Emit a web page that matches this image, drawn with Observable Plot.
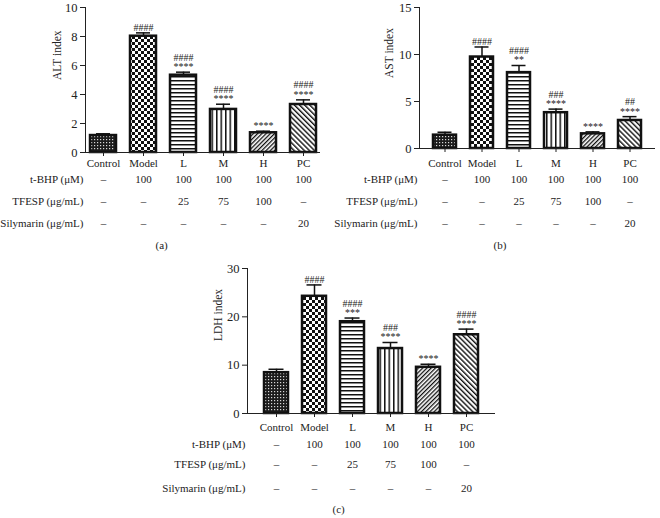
<!DOCTYPE html>
<html>
<head>
<meta charset="utf-8">
<script src="https://cdn.jsdelivr.net/npm/d3@7"></script>
<script src="https://cdn.jsdelivr.net/npm/@observablehq/plot@0.6"></script>
<style>
  html, body { margin: 0; padding: 0; background: #fff; }
  #root { position: relative; width: 660px; height: 518px; overflow: hidden; font-family: "Liberation Serif", serif; }
  #root > div { position: absolute; }
</style>
</head>
<body>
<svg width="0" height="0" style="position:absolute">
  <defs>
    <pattern id="pControl" width="3" height="3" patternUnits="userSpaceOnUse">
      <rect width="3" height="3" fill="#1c1c1c"/>
      <rect x="1" y="1" width="1.2" height="1.2" fill="#d8d8d8"/>
    </pattern>
    <pattern id="pModel" width="6" height="6" patternUnits="userSpaceOnUse">
      <rect width="6" height="6" fill="#fff"/>
      <rect width="3" height="3" fill="#111"/>
      <rect x="3" y="3" width="3" height="3" fill="#111"/>
    </pattern>
    <pattern id="pL" width="4" height="4" patternUnits="userSpaceOnUse">
      <rect width="4" height="4" fill="#fff"/>
      <rect width="4" height="1.5" fill="#111"/>
    </pattern>
    <pattern id="pM" width="4.5" height="4" patternUnits="userSpaceOnUse">
      <rect width="4.5" height="4" fill="#fff"/>
      <rect width="1.5" height="4" fill="#111"/>
    </pattern>
    <pattern id="pH" width="3" height="3" patternUnits="userSpaceOnUse" patternTransform="rotate(45)">
      <rect width="3" height="3" fill="#fff"/>
      <rect width="1.3" height="3" fill="#111"/>
    </pattern>
    <pattern id="pPC" width="3.6" height="3.6" patternUnits="userSpaceOnUse" patternTransform="rotate(-45)">
      <rect width="3.6" height="3.6" fill="#fff"/>
      <rect width="1.4" height="3.6" fill="#111"/>
    </pattern>
  </defs>
</svg>
<div id="root">
  <div id="pa"></div>
  <div id="pb"></div>
  <div id="pc"></div>
</div>
<script>
// ---------- data ----------
const categories = ["Control", "Model", "L", "M", "H", "PC"];

const altMean = [1.17, 8.02, 5.33, 2.97, 1.36, 3.31];
const altErr  = [0.12, 0.23, 0.21, 0.36, 0.11, 0.32];
const altSig  = ["", "####", "####\n****", "####\n****", "****", "####\n****"];

const astMean = [1.42, 9.73, 8.07, 3.81, 1.56, 2.98];
const astErr  = [0.31, 1.07, 0.76, 0.38, 0.21, 0.41];
const astSig  = ["", "####", "####\n**", "###\n****", "****", "##\n****"];

const ldhMean = [8.45, 24.25, 18.99, 13.44, 9.56, 16.29];
const ldhErr  = [0.70, 2.35, 0.76, 1.25, 0.63, 1.17];
const ldhSig  = ["", "####", "####\n***", "###\n****", "****", "####\n****"];

const tbhp      = ["–", "100", "100", "100", "100", "100"];
const tfesp     = ["–", "–", "25", "75", "100", "–"];
const silymarin = ["–", "–", "–", "–", "–", "20"];
const rowLabels = ["t-BHP (μM)", "TFESP (μg/mL)", "Silymarin (μg/mL)"];

const altTicks = [0, 2, 4, 6, 8, 10];
const astTicks = [0, 5, 10, 15];
const ldhTicks = [0, 10, 20, 30];

const panelLabels = ["(a)", "(b)", "(c)"];
const yLabels = ["ALT index", "AST index", "LDH index"];

// ---------- drawing ----------
const patternOf = {Control: "url(#pControl)", Model: "url(#pModel)", L: "url(#pL)", M: "url(#pM)", H: "url(#pH)", PC: "url(#pPC)"};
const ink = "#111";
const textInk = "#222";

function panel(cfg) {
  const data = categories.map((c, i) => ({c, v: cfg.mean[i], e: cfg.err[i], s: cfg.sig[i]}));
  const rows = [tbhp, tfesp, silymarin];
  const svg = Plot.plot({
    width: cfg.width,
    height: cfg.height,
    marginLeft: cfg.ml, marginRight: cfg.mr, marginTop: cfg.mt, marginBottom: cfg.mb,
    style: {fontFamily: "Liberation Serif, serif", fontSize: "11px", color: textInk, background: "transparent", overflow: "visible"},
    x: {domain: categories, paddingInner: cfg.pi, paddingOuter: cfg.po, tickSize: 4, tickPadding: cfg.xPad, label: null},
    y: {domain: [cfg.ticks[0], cfg.ticks[cfg.ticks.length - 1]], ticks: cfg.ticks, line: true, tickSize: 5, tickPadding: 3, label: null},
    color: {type: "identity"},
    marks: [
      Plot.ruleX(data, {x: "c", y1: "v", y2: d => d.v + d.e, stroke: ink, strokeWidth: 1.5}),
      Plot.tickY(data, {x: "c", y: d => d.v + d.e, stroke: ink, strokeWidth: 1.5, insetLeft: cfg.cap, insetRight: cfg.cap}),
      Plot.barY(data, {x: "c", y: "v", fill: d => patternOf[d.c], stroke: ink, strokeWidth: 2.5}),
      Plot.text(data, {x: "c", y: d => d.v + d.e, text: "s", lineAnchor: "bottom", dy: -2, fontSize: 10, lineHeight: 0.95, fill: textInk}),
      Plot.ruleY([0], {stroke: textInk, strokeWidth: 1.2}),
      Plot.text([cfg.yLabel], {text: d => d, frameAnchor: "left", rotate: -90, dx: -cfg.labelOffset, fontSize: 11.5, fill: textInk}),
      ...rows.map((row, r) => Plot.text(data, {x: "c", text: (d, i) => row[i], frameAnchor: "bottom", dy: cfg.rowDy[r], fill: textInk})),
      ...rowLabels.map((lab, r) => Plot.text([lab], {text: d => d, frameAnchor: "bottom-left", textAnchor: "end", dx: -2, dy: cfg.rowDy[r], fill: textInk})),
      Plot.text([cfg.panelLabel], {text: d => d, frameAnchor: "bottom-left", dx: cfg.panelDx, dy: cfg.panelDy, fill: textInk})
    ]
  });
  svg.querySelectorAll('g[aria-label="y-axis tick label"], g[aria-label="y-axis"]').forEach(g => {
    g.setAttribute("font-size", "12.5");
    g.querySelectorAll("text").forEach(t => t.setAttribute("font-size", "12.5"));
  });
  const host = document.getElementById(cfg.host);
  host.style.left = cfg.left + "px";
  host.style.top = cfg.top + "px";
  host.appendChild(svg);
}

panel({host: "pa", left: 0, top: 0, width: 330, height: 258, ml: 85, mr: 10, mt: 7, mb: 106,
  mean: altMean, err: altErr, sig: altSig, ticks: altTicks, yLabel: yLabels[0], labelOffset: 28,
  pi: 0.35, po: 0.11, cap: 6, xPad: 3, rowDy: [30, 52, 74], panelLabel: panelLabels[0], panelDx: 70, panelDy: 96});

panel({host: "pb", left: 330, top: 0, width: 330, height: 258, ml: 89, mr: 5, mt: 7, mb: 110,
  mean: astMean, err: astErr, sig: astSig, ticks: astTicks, yLabel: yLabels[1], labelOffset: 30,
  pi: 0.365, po: 0.30, cap: 4.5, xPad: 6.5, rowDy: [34, 56, 78], panelLabel: panelLabels[1], panelDx: 74, panelDy: 100});

panel({host: "pc", left: 150, top: 258, width: 360, height: 260, ml: 97, mr: 15, mt: 10, mb: 105,
  mean: ldhMean, err: ldhErr, sig: ldhSig, ticks: ldhTicks, yLabel: yLabels[2], labelOffset: 29,
  pi: 0.375, po: 0.42, cap: 4.5, xPad: 5.5, rowDy: [34, 54, 78], panelLabel: panelLabels[2], panelDx: 85, panelDy: 99});
</script>
</body>
</html>
